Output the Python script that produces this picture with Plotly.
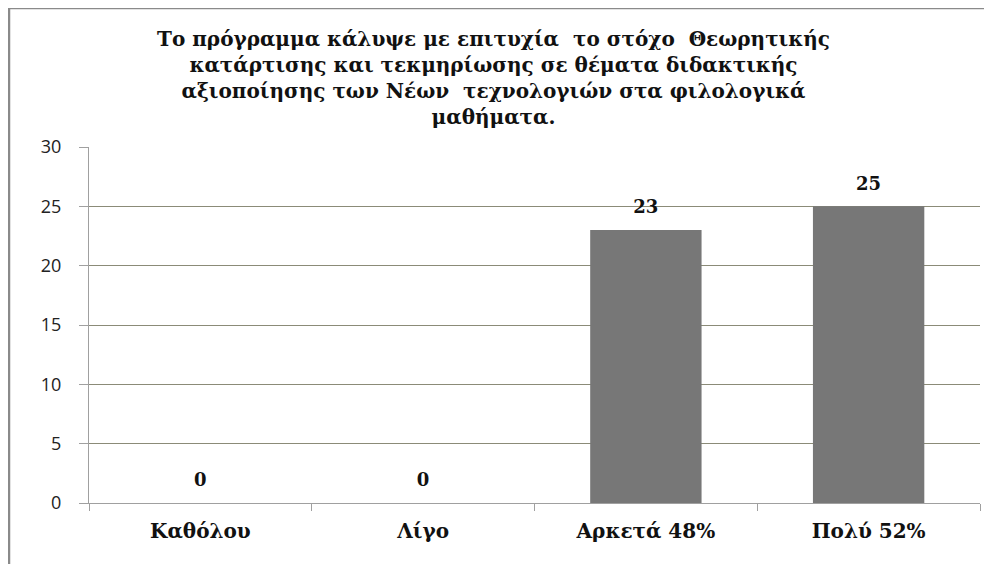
import plotly.graph_objects as go

categories = ["Καθόλου", "Λίγο", "Αρκετά 48%", "Πολύ 52%"]
values = [0, 0, 23, 25]
title_lines = [
    "Το πρόγραμμα κάλυψε με επιτυχία  το στόχο  Θεωρητικής",
    "κατάρτισης και τεκμηρίωσης σε θέματα διδακτικής",
    "αξιοποίησης των Νέων  τεχνολογιών στα φιλολογικά",
    "μαθήματα.",
]
y_ticks = [0, 5, 10, 15, 20, 25, 30]

OFF = 8  # page body margin
W, H = 992 - OFF, 564 - OFF
L, R, T, B = 89 - OFF, 992 - 980, 147 - OFF, 564 - 503
pw, ph = W - L - R, H - T - B

def px_x(p):
    return (p - OFF - L) / pw

def px_y(p):
    return (503 - p) / ph

serif = "'DejaVu Serif', 'Liberation Serif', serif"

fig = go.Figure()
fig.add_trace(go.Bar(
    x=categories, y=values,
    marker=dict(color="#777777", line=dict(width=0)),
    width=0.5,
    hoverinfo="skip",
))
fig.add_trace(go.Scatter(
    x=categories, y=values,
    mode="markers+text",
    marker=dict(size=18, color="rgba(0,0,0,0)"),
    text=["<b>%d</b>" % v for v in values],
    textposition="top center",
    textfont=dict(family=serif, size=18, color="#111111"),
    hoverinfo="skip",
    cliponaxis=False,
))

fig.update_layout(
    width=W, height=H,
    margin=dict(l=L, r=R, t=T, b=B),
    paper_bgcolor="white", plot_bgcolor="white",
    showlegend=False,
    xaxis=dict(
        showline=True, linecolor="#a0a0a0", linewidth=1,
        ticks="outside", ticklen=7, tickcolor="#a0a0a0",
        tickson="boundaries",
        tickvals=categories,
        ticktext=["<b>%s</b>" % c for c in categories],
        ticklabelstandoff=10,
        tickfont=dict(family=serif, size=20, color="#111111"),
        showgrid=False,
        fixedrange=True,
    ),
    yaxis=dict(
        range=[0, 30], tickvals=y_ticks,
        showline=True, linecolor="#a0a0a0", linewidth=1,
        ticks="outside", ticklen=9, tickcolor="#a0a0a0",
        ticklabelstandoff=14,
        tickfont=dict(family="'Open Sans', 'DejaVu Sans', sans-serif", size=18, color="#222222"),
        showgrid=True, gridcolor="#8b8b78", gridwidth=1.3,
        zeroline=False,
        fixedrange=True,
    ),
    annotations=[dict(
        text="<br>".join("<b>%s</b>" % t for t in title_lines),
        xref="paper", yref="paper",
        x=px_x(493), y=px_y(26),
        xanchor="center", yanchor="top",
        showarrow=False, borderpad=0,
        font=dict(family=serif, size=20, color="#111111"),
    )],
    shapes=[
        dict(type="line", xref="paper", yref="paper",
             x0=px_x(9), x1=px_x(9), y0=px_y(8), y1=px_y(570),
             line=dict(color="#8a8a8a", width=2.5)),
        dict(type="line", xref="paper", yref="paper",
             x0=px_x(9), x1=px_x(995), y0=px_y(8), y1=px_y(8),
             line=dict(color="#8a8a8a", width=2.5)),
    ],
)

fig.write_html("out.html")
